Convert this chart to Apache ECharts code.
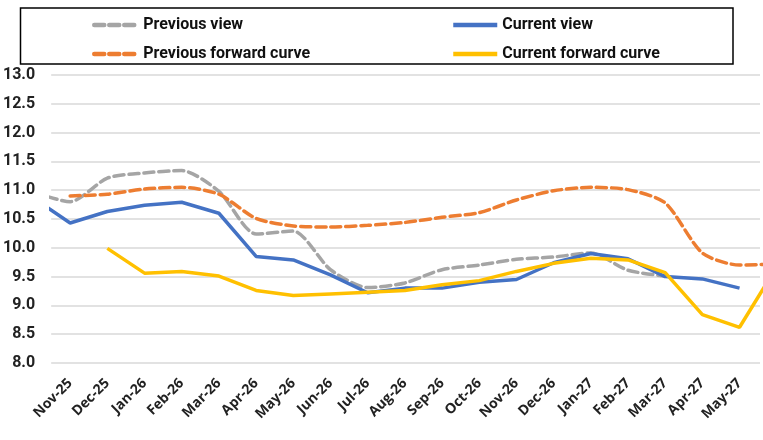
<!DOCTYPE html>
<html>
<head>
<meta charset="utf-8">
<script src="https://cdn.jsdelivr.net/npm/echarts@6/dist/echarts.min.js"></script>
<style>
html,body{margin:0;padding:0;background:#fff;}
#chart{width:763px;height:440px;}
</style>
</head>
<body>
<div id="chart"></div>
<script>
// Categories (Oct-25 and Jun-27 lie just outside the visible plot, as in the reference crop)
const categories = ["Oct-25","Nov-25","Dec-25","Jan-26","Feb-26","Mar-26","Apr-26","May-26","Jun-26","Jul-26","Aug-26","Sep-26","Oct-26","Nov-26","Dec-26","Jan-27","Feb-27","Mar-27","Apr-27","May-27","Jun-27"];
const previousView = [10.97,10.80,11.21,11.30,11.34,10.98,10.24,10.29,9.62,9.31,9.39,9.62,9.70,9.80,9.84,9.91,9.61,9.51,null,null,null];
const currentView = [10.87,10.43,10.63,10.74,10.79,10.60,9.85,9.79,9.53,9.22,9.30,9.30,9.40,9.45,9.74,9.90,9.81,9.50,9.46,9.30,null];
const previousForward = [null,10.90,10.93,11.02,11.05,10.93,10.51,10.38,10.36,10.39,10.44,10.53,10.61,10.83,10.99,11.05,11.01,10.78,9.91,9.70,9.72];
const currentForward = [null,null,9.99,9.56,9.59,9.51,9.26,9.17,9.20,9.23,9.26,9.36,9.43,9.59,9.73,9.82,9.79,9.57,8.84,8.62,9.67];
const yTicks = [8.0,8.5,9.0,9.5,10.0,10.5,11.0,11.5,12.0,12.5,13.0];

const OFFSET = 1; // index of "Nov-25" in categories
const toXY = arr => arr.map((v, i) => [i - OFFSET, v]);
const visibleIdx = [];
for (let i = 1; i <= 19; i++) visibleIdx.push(i - OFFSET);

const chart = echarts.init(document.getElementById('chart'), null, {renderer: 'canvas'});
const legendText = {fontFamily: 'Roboto', fontWeight: 'bold', fontSize: 16, color: '#111'};
const legendCommon = {
  orient: 'vertical', top: 12, itemWidth: 44, itemHeight: 14, itemGap: 13,
  itemStyle: {opacity: 0}, lineStyle: {width: 4.5}, textStyle: legendText
};

chart.setOption({
  animation: false,
  backgroundColor: '#fff',
  graphic: [{
    type: 'rect',
    shape: {x: 20.5, y: 8, width: 712.5, height: 56},
    style: {fill: 'none', stroke: '#000', lineWidth: 1.5},
    silent: true
  }],
  legend: [
    Object.assign({left: 87, data: ['Previous view', 'Previous forward curve']}, legendCommon),
    Object.assign({left: 446, data: ['Current view', 'Current forward curve']}, legendCommon)
  ],
  grid: {left: 51, right: 3, top: 75, bottom: 77},
  xAxis: {
    type: 'value',
    min: -0.51,
    max: 18.55,
    axisLine: {show: false},
    axisTick: {show: false},
    splitLine: {show: false},
    axisLabel: {
      customValues: visibleIdx,
      rotate: 45,
      margin: 18,
      fontFamily: 'Open Sans',
      fontWeight: 'bold',
      fontSize: 14,
      color: '#222',
      formatter: v => categories[Math.round(v) + OFFSET]
    }
  },
  yAxis: {
    type: 'value',
    min: yTicks[0],
    max: yTicks[yTicks.length - 1],
    interval: 0.5,
    axisLine: {show: false},
    axisTick: {show: false},
    splitLine: {lineStyle: {color: '#D9D9D9', width: 1.5}},
    axisLabel: {
      margin: 16,
      fontFamily: 'Roboto',
      fontWeight: 'bold',
      fontSize: 16,
      color: '#222',
      formatter: v => v.toFixed(1)
    }
  },
  series: [
    {
      name: 'Previous view', type: 'line', data: toXY(previousView), symbol: 'none', smooth: 0.25,
      clip: true, z: 2,
      lineStyle: {color: '#A5A5A5', width: 3.5, type: [10, 5], cap: 'round'},
      itemStyle: {color: '#A5A5A5'}
    },
    {
      name: 'Previous forward curve', type: 'line', data: toXY(previousForward), symbol: 'none', smooth: 0.25,
      clip: true, z: 2,
      lineStyle: {color: '#ED7D31', width: 3.5, type: [10, 5], cap: 'round'},
      itemStyle: {color: '#ED7D31'}
    },
    {
      name: 'Current view', type: 'line', data: toXY(currentView), symbol: 'none',
      clip: true, z: 3,
      lineStyle: {color: '#4472C4', width: 3.5},
      itemStyle: {color: '#4472C4'}
    },
    {
      name: 'Current forward curve', type: 'line', data: toXY(currentForward), symbol: 'none',
      clip: true, z: 4,
      lineStyle: {color: '#FFC000', width: 3.5},
      itemStyle: {color: '#FFC000'}
    }
  ]
});
</script>
</body>
</html>
